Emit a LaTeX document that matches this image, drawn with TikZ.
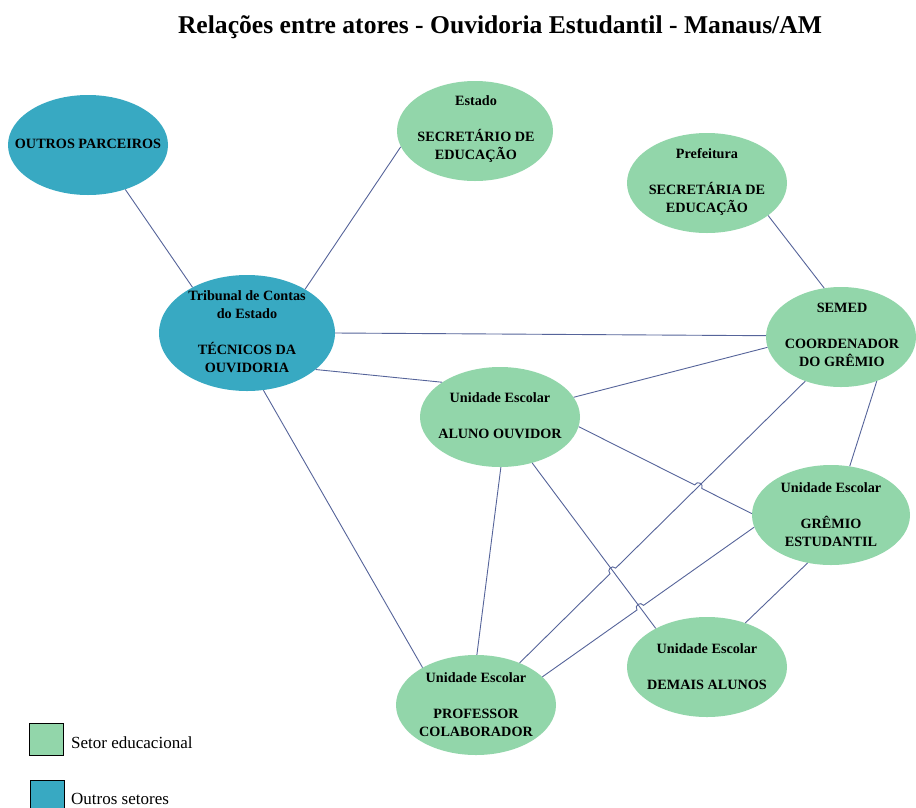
\documentclass[tikz,border=0pt]{standalone}
\usepackage{fontspec}
\setmainfont{Liberation Serif}
\usetikzlibrary{shapes.geometric,calc,intersections}

\definecolor{edugreen}{HTML}{92D6AA}
\definecolor{othteal}{HTML}{38A9C2}
\definecolor{linkblue}{HTML}{56649A}

\tikzset{
  actor/.style={ellipse, inner sep=0pt, minimum width=160pt, minimum height=100pt},
  edu/.style={actor, fill=edugreen},
  other/.style={actor, fill=othteal},
  lbl/.style={align=center, inner sep=0pt, font=\fontsize{14.2}{18}\selectfont\bfseries},
  link/.style={draw=linkblue, line width=0.9pt},
  legbox/.style={draw=black, line width=0.9pt, minimum width=34pt, minimum height=32pt, inner sep=0pt},
  legtext/.style={anchor=base west, inner sep=0pt, font=\fontsize{17}{19}\selectfont},
}

\begin{document}
\begin{tikzpicture}[x=1pt, y=-1pt]
\clip (0,0) rectangle (916,807);
\fill[white] (0,0) rectangle (916,807);

% title
\node[anchor=base, inner sep=0pt, font=\fontsize{25.6}{29}\selectfont\bfseries] (title) at (500,33)
  {Relações entre atores - Ouvidoria Estudantil - Manaus/AM};

% actors
\node[other] (op)   at (88,145)  {};
\node[edu, minimum width=156pt] (est) at (475,131) {};
\node[edu]   (pref) at (707,183) {};
\node[other, minimum width=176pt, minimum height=116pt] (tce) at (247,333) {};
\node[edu, minimum width=150pt] (se) at (841,337) {};
\node[edu]   (ao)   at (500,417) {};
\node[edu, minimum width=158pt] (gr) at (831,515) {};
\node[edu]   (de)   at (707,667) {};
\node[edu]   (pr)   at (476,705) {};

% actor labels
\node[lbl] (op-t)   at (88,144)   {OUTROS PARCEIROS};
\node[lbl] (est-t)  at (476,129)  {Estado\\[18pt]SECRETÁRIO DE\\EDUCAÇÃO};
\node[lbl] (pref-t) at (707,182)  {Prefeitura\\[18pt]SECRETÁRIA DE\\EDUCAÇÃO};
\node[lbl] (tce-t)  at (247,332)  {Tribunal de Contas\\do Estado\\[18pt]TÉCNICOS DA\\OUVIDORIA};
\node[lbl] (se-t)   at (842,335)  {SEMED\\[18pt]COORDENADOR\\DO GRÊMIO};
\node[lbl] (ao-t)   at (500,416)  {Unidade Escolar\\[18pt]ALUNO OUVIDOR};
\node[lbl] (gr-t)   at (831,515)  {Unidade Escolar\\[18pt]GRÊMIO\\ESTUDANTIL};
\node[lbl] (de-t)   at (707,667)  {Unidade Escolar\\[18pt]DEMAIS ALUNOS};
\node[lbl] (pr-t)   at (476,705)  {Unidade Escolar\\[18pt]PROFESSOR\\COLABORADOR};

% plain connectors
\draw[link] (op.-50.6) -- (tce.140);
\draw[link] (est.-168) -- (tce.37.8);
\draw[link] (pref.-28) -- (se.109.8);
\draw[link] (tce.0) -- (se.179);
\draw[link] (tce.-28.6) -- (ao.149.2);
\draw[link] (tce.-74.3) -- (pr.145.1);
\draw[link] (ao.15.3) -- (se.-172.3);
\draw[link] (ao.-89) -- (pr.89);
\draw[link] (ao.-55.2) -- (de.143.8);
\draw[link] (se.-51.3) -- (gr.69.2);
\draw[link] (gr.-116.6) -- (de.49.2);

% crossing points for the line jumps
\path[name path=agp] (ao.-7.3) -- (gr.179);
\path[name path=spp] (pr.44.3) -- (se.-129.8);
\path[name path=adp] (ao.-55.2) -- (de.143.8);
\path[name path=gpp] (pr.23.7) -- (gr.-171.3);
\path[name intersections={of=agp and spp, by=x1}];
\path[name intersections={of=spp and adp, by=x2}];
\path[name intersections={of=gpp and adp, by=x3}];

\coordinate (h1a) at ($(x1)!4pt!(ao.-7.3)$);
\coordinate (h1b) at ($(x1)!4pt!(gr.179)$);
\coordinate (h2a) at ($(x2)!4pt!(pr.44.3)$);
\coordinate (h2b) at ($(x2)!4pt!(se.-129.8)$);
\coordinate (h3a) at ($(x3)!4pt!(pr.23.7)$);
\coordinate (h3b) at ($(x3)!4pt!(gr.-171.3)$);

% connectors with line jumps
\draw[link] (ao.-7.3) -- (h1a)
  .. controls ($(h1a)!5.3pt!90:(h1b)$) and ($(h1b)!5.3pt!-90:(h1a)$) .. (h1b)
  -- (gr.179);
\draw[link] (pr.44.3) -- (h2a)
  .. controls ($(h2a)!5.3pt!90:(h2b)$) and ($(h2b)!5.3pt!-90:(h2a)$) .. (h2b)
  -- (se.-129.8);
\draw[link] (pr.23.7) -- (h3a)
  .. controls ($(h3a)!5.3pt!90:(h3b)$) and ($(h3b)!5.3pt!-90:(h3a)$) .. (h3b)
  -- (gr.-171.3);

% legend
\node[legbox, fill=edugreen] (leg-edu) at (46.5,739) {};
\node[legtext] (leg-edu-t) at (71,748) {Setor educacional};
\node[legbox, fill=othteal, minimum height=34pt] (leg-oth) at (47,797) {};
\node[legtext] (leg-oth-t) at (71,804) {Outros setores};
\end{tikzpicture}
\end{document}
